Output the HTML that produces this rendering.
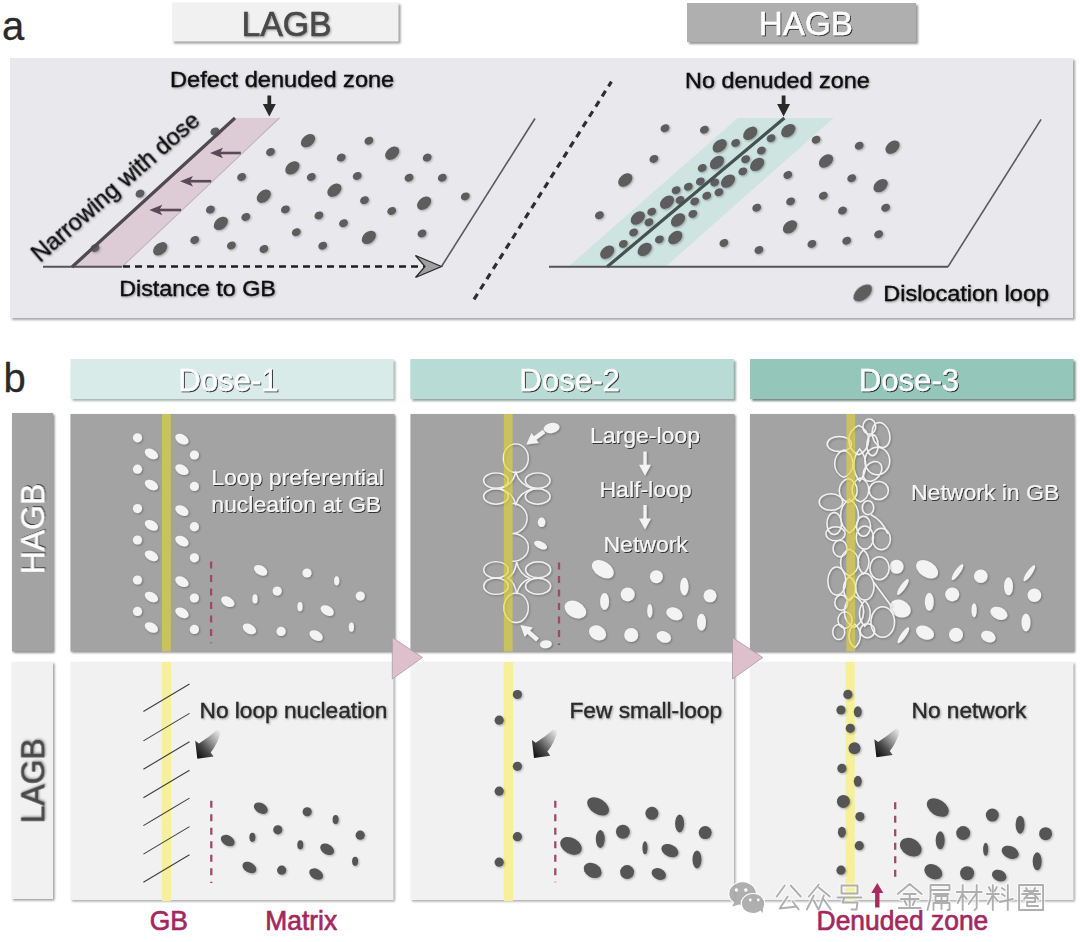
<!DOCTYPE html><html><head><meta charset="utf-8"><style>html,body{margin:0;padding:0;background:#fff;width:1080px;height:942px;overflow:hidden}svg{display:block}text{font-family:"Liberation Sans",sans-serif}</style></head><body>
<svg width="1080" height="942" viewBox="0 0 1080 942">
<defs>
<filter id="bs" x="-5%" y="-5%" width="110%" height="110%"><feGaussianBlur stdDeviation="0.8"/></filter>
<filter id="ts" x="-10%" y="-30%" width="120%" height="160%"><feGaussianBlur in="SourceAlpha" stdDeviation="0.7"/><feOffset dx="1.2" dy="1.4" result="o"/><feFlood flood-color="#2a2a2a" flood-opacity="0.95"/><feComposite in2="o" operator="in" result="s"/><feMerge><feMergeNode in="s"/><feMergeNode in="SourceGraphic"/></feMerge></filter>
<filter id="tsd" x="-10%" y="-30%" width="120%" height="160%"><feGaussianBlur in="SourceAlpha" stdDeviation="1"/><feOffset dx="1" dy="1.2" result="o"/><feFlood flood-color="#000" flood-opacity="0.35"/><feComposite in2="o" operator="in" result="s"/><feMerge><feMergeNode in="s"/><feMergeNode in="SourceGraphic"/></feMerge></filter>
<filter id="ds" x="-30%" y="-30%" width="160%" height="160%"><feGaussianBlur in="SourceAlpha" stdDeviation="0.8"/><feOffset dx="0.8" dy="1" result="o"/><feFlood flood-color="#000" flood-opacity="0.3"/><feComposite in2="o" operator="in" result="s"/><feMerge><feMergeNode in="s"/><feMergeNode in="SourceGraphic"/></feMerge></filter>
<linearGradient id="ag" x1="0.95" y1="0" x2="0.05" y2="0.85"><stop offset="0" stop-color="#f2f2f2"/><stop offset="0.35" stop-color="#a5a5a5"/><stop offset="0.7" stop-color="#4a4a4a"/><stop offset="1" stop-color="#151515"/></linearGradient>
</defs>
<text transform="translate(2,40.2)" font-size="40" fill="#2a2a2a" stroke="#2a2a2a" stroke-width="0.3" >a</text>
<rect x="174" y="4.5" width="226.5" height="39" fill="#9c9c9c" filter="url(#bs)"/>
<rect x="172" y="2.5" width="226.5" height="39" fill="#f1f1f1"/>
<rect x="689" y="5" width="229" height="39" fill="#959595" filter="url(#bs)"/>
<rect x="687" y="3" width="229" height="39" fill="#afafaf"/>
<text transform="translate(241.5,35.6) scale(1,1.03)" font-size="33.8" fill="#484848" filter="url(#tsd)" stroke="#484848" stroke-width="0.6" >LAGB</text>
<text transform="translate(758.8,35.2) scale(1,1.02)" font-size="33.2" fill="#fff" filter="url(#ts)" stroke="#fff" stroke-width="0.4" >HAGB</text>
<rect x="12" y="60" width="1063" height="260" fill="#a6a6a6" filter="url(#bs)"/>
<rect x="10" y="58" width="1063" height="260" fill="#e9e8ec"/>
<polygon points="72,267 235,118 279.5,118 121.8,267" fill="#ddccd6"/>
<line x1="121.8" y1="267" x2="279.5" y2="118" stroke="#c2b4bd" stroke-width="1.1"/>
<polygon points="568.3,266.7 737.8,118 833.6,118 665.6,266.7" fill="#cde4e1"/>
<line x1="43" y1="266.8" x2="122" y2="266.8" stroke="#555" stroke-width="1.9"/>
<line x1="123" y1="266.5" x2="425" y2="266.5" stroke="#1e1e1e" stroke-width="2.6" stroke-dasharray="7,5"/>
<polygon points="441.5,266.5 415.5,255.5 425,266.5 415.5,277.5" fill="#a0a0a0" stroke="#2a2a2a" stroke-width="1.3" stroke-linejoin="miter"/>
<line x1="441.5" y1="266.5" x2="535" y2="118.5" stroke="#5a5a5a" stroke-width="1.6"/>
<line x1="549" y1="266.7" x2="948" y2="266.7" stroke="#555" stroke-width="1.9"/>
<line x1="948" y1="266.7" x2="1041.1" y2="119.4" stroke="#5a5a5a" stroke-width="1.6"/>
<line x1="474" y1="299.4" x2="611.4" y2="81.7" stroke="#2e2e2e" stroke-width="3.2" stroke-dasharray="6.5,5.5"/>
<g filter="url(#ds)">
<ellipse cx="270.5" cy="152.0" rx="4.6" ry="3.8" transform="rotate(-30 270.5 152.0)" fill="#5d5d5d" />
<ellipse cx="368.9" cy="140.7" rx="4.6" ry="3.8" transform="rotate(-30 368.9 140.7)" fill="#5d5d5d" />
<ellipse cx="427.2" cy="157.6" rx="4.6" ry="3.8" transform="rotate(-30 427.2 157.6)" fill="#5d5d5d" />
<ellipse cx="341.2" cy="157.6" rx="4.6" ry="3.8" transform="rotate(-30 341.2 157.6)" fill="#5d5d5d" />
<ellipse cx="311.3" cy="177.0" rx="4.6" ry="3.8" transform="rotate(-30 311.3 177.0)" fill="#5d5d5d" />
<ellipse cx="357.2" cy="176.0" rx="4.6" ry="3.8" transform="rotate(-30 357.2 176.0)" fill="#5d5d5d" />
<ellipse cx="409.0" cy="177.8" rx="4.6" ry="3.8" transform="rotate(-30 409.0 177.8)" fill="#5d5d5d" />
<ellipse cx="442.3" cy="177.8" rx="4.6" ry="3.8" transform="rotate(-30 442.3 177.8)" fill="#5d5d5d" />
<ellipse cx="364.5" cy="200.3" rx="4.6" ry="3.8" transform="rotate(-30 364.5 200.3)" fill="#5d5d5d" />
<ellipse cx="465.3" cy="196.4" rx="4.6" ry="3.8" transform="rotate(-30 465.3 196.4)" fill="#5d5d5d" />
<ellipse cx="285.4" cy="209.4" rx="4.6" ry="3.8" transform="rotate(-30 285.4 209.4)" fill="#5d5d5d" />
<ellipse cx="318.9" cy="215.4" rx="4.6" ry="3.8" transform="rotate(-30 318.9 215.4)" fill="#5d5d5d" />
<ellipse cx="343.5" cy="223.2" rx="4.6" ry="3.8" transform="rotate(-30 343.5 223.2)" fill="#5d5d5d" />
<ellipse cx="391.7" cy="211.0" rx="4.6" ry="3.8" transform="rotate(-30 391.7 211.0)" fill="#5d5d5d" />
<ellipse cx="296.3" cy="232.2" rx="4.6" ry="3.8" transform="rotate(-30 296.3 232.2)" fill="#5d5d5d" />
<ellipse cx="422.0" cy="233.5" rx="4.6" ry="3.8" transform="rotate(-30 422.0 233.5)" fill="#5d5d5d" />
<ellipse cx="322.7" cy="245.7" rx="4.6" ry="3.8" transform="rotate(-30 322.7 245.7)" fill="#5d5d5d" />
<ellipse cx="263.9" cy="249.0" rx="4.6" ry="3.8" transform="rotate(-30 263.9 249.0)" fill="#5d5d5d" />
<ellipse cx="241.6" cy="177.0" rx="4.6" ry="3.8" transform="rotate(-30 241.6 177.0)" fill="#5d5d5d" />
<ellipse cx="210.4" cy="209.6" rx="4.6" ry="3.8" transform="rotate(-30 210.4 209.6)" fill="#5d5d5d" />
<ellipse cx="245.8" cy="217.0" rx="4.6" ry="3.8" transform="rotate(-30 245.8 217.0)" fill="#5d5d5d" />
<ellipse cx="194.7" cy="240.0" rx="4.6" ry="3.8" transform="rotate(-30 194.7 240.0)" fill="#5d5d5d" />
<ellipse cx="231.4" cy="245.5" rx="4.6" ry="3.8" transform="rotate(-30 231.4 245.5)" fill="#5d5d5d" />
<ellipse cx="214.9" cy="131.5" rx="4.6" ry="3.8" transform="rotate(-30 214.9 131.5)" fill="#5d5d5d" />
<ellipse cx="140.0" cy="193.6" rx="4.6" ry="3.8" transform="rotate(-30 140.0 193.6)" fill="#5d5d5d" />
<ellipse cx="95.0" cy="248.0" rx="4.6" ry="3.8" transform="rotate(-30 95.0 248.0)" fill="#5d5d5d" />
<ellipse cx="665.0" cy="128.3" rx="4.6" ry="3.8" transform="rotate(-30 665.0 128.3)" fill="#5d5d5d" />
<ellipse cx="704.4" cy="129.7" rx="4.6" ry="3.8" transform="rotate(-30 704.4 129.7)" fill="#5d5d5d" />
<ellipse cx="653.9" cy="158.9" rx="4.6" ry="3.8" transform="rotate(-30 653.9 158.9)" fill="#5d5d5d" />
<ellipse cx="599.4" cy="215.3" rx="4.6" ry="3.8" transform="rotate(-30 599.4 215.3)" fill="#5d5d5d" />
<ellipse cx="816.1" cy="139.7" rx="4.6" ry="3.8" transform="rotate(-30 816.1 139.7)" fill="#5d5d5d" />
<ellipse cx="859.2" cy="145.8" rx="4.6" ry="3.8" transform="rotate(-30 859.2 145.8)" fill="#5d5d5d" />
<ellipse cx="787.8" cy="175.0" rx="4.6" ry="3.8" transform="rotate(-30 787.8 175.0)" fill="#5d5d5d" />
<ellipse cx="851.7" cy="178.3" rx="4.6" ry="3.8" transform="rotate(-30 851.7 178.3)" fill="#5d5d5d" />
<ellipse cx="823.3" cy="195.8" rx="4.6" ry="3.8" transform="rotate(-30 823.3 195.8)" fill="#5d5d5d" />
<ellipse cx="790.6" cy="201.4" rx="4.6" ry="3.8" transform="rotate(-30 790.6 201.4)" fill="#5d5d5d" />
<ellipse cx="756.7" cy="207.8" rx="4.6" ry="3.8" transform="rotate(-30 756.7 207.8)" fill="#5d5d5d" />
<ellipse cx="842.5" cy="210.6" rx="4.6" ry="3.8" transform="rotate(-30 842.5 210.6)" fill="#5d5d5d" />
<ellipse cx="885.6" cy="207.8" rx="4.6" ry="3.8" transform="rotate(-30 885.6 207.8)" fill="#5d5d5d" />
<ellipse cx="723.9" cy="243.0" rx="4.6" ry="3.8" transform="rotate(-30 723.9 243.0)" fill="#5d5d5d" />
<ellipse cx="758.9" cy="250.0" rx="4.6" ry="3.8" transform="rotate(-30 758.9 250.0)" fill="#5d5d5d" />
<ellipse cx="811.9" cy="243.9" rx="4.6" ry="3.8" transform="rotate(-30 811.9 243.9)" fill="#5d5d5d" />
<ellipse cx="846.7" cy="240.8" rx="4.6" ry="3.8" transform="rotate(-30 846.7 240.8)" fill="#5d5d5d" />
<ellipse cx="878.6" cy="234.2" rx="4.6" ry="3.8" transform="rotate(-30 878.6 234.2)" fill="#5d5d5d" />
<ellipse cx="735.6" cy="143.0" rx="4.6" ry="3.8" transform="rotate(-30 735.6 143.0)" fill="#5d5d5d" />
<ellipse cx="771.1" cy="138.3" rx="4.6" ry="3.8" transform="rotate(-30 771.1 138.3)" fill="#5d5d5d" />
<ellipse cx="761.4" cy="150.6" rx="4.6" ry="3.8" transform="rotate(-30 761.4 150.6)" fill="#5d5d5d" />
<ellipse cx="702.2" cy="168.0" rx="4.6" ry="3.8" transform="rotate(-30 702.2 168.0)" fill="#5d5d5d" />
<ellipse cx="745.6" cy="159.2" rx="4.6" ry="3.8" transform="rotate(-30 745.6 159.2)" fill="#5d5d5d" />
<ellipse cx="742.8" cy="171.4" rx="4.6" ry="3.8" transform="rotate(-30 742.8 171.4)" fill="#5d5d5d" />
<ellipse cx="714.7" cy="182.5" rx="4.6" ry="3.8" transform="rotate(-30 714.7 182.5)" fill="#5d5d5d" />
<ellipse cx="700.3" cy="181.4" rx="4.6" ry="3.8" transform="rotate(-30 700.3 181.4)" fill="#5d5d5d" />
<ellipse cx="688.3" cy="186.7" rx="4.6" ry="3.8" transform="rotate(-30 688.3 186.7)" fill="#5d5d5d" />
<ellipse cx="676.1" cy="190.3" rx="4.6" ry="3.8" transform="rotate(-30 676.1 190.3)" fill="#5d5d5d" />
<ellipse cx="680.0" cy="200.0" rx="4.6" ry="3.8" transform="rotate(-30 680.0 200.0)" fill="#5d5d5d" />
<ellipse cx="694.7" cy="201.4" rx="4.6" ry="3.8" transform="rotate(-30 694.7 201.4)" fill="#5d5d5d" />
<ellipse cx="706.7" cy="195.8" rx="4.6" ry="3.8" transform="rotate(-30 706.7 195.8)" fill="#5d5d5d" />
<ellipse cx="718.9" cy="192.2" rx="4.6" ry="3.8" transform="rotate(-30 718.9 192.2)" fill="#5d5d5d" />
<ellipse cx="692.8" cy="213.9" rx="4.6" ry="3.8" transform="rotate(-30 692.8 213.9)" fill="#5d5d5d" />
<ellipse cx="651.7" cy="211.7" rx="4.6" ry="3.8" transform="rotate(-30 651.7 211.7)" fill="#5d5d5d" />
<ellipse cx="648.9" cy="222.2" rx="4.6" ry="3.8" transform="rotate(-30 648.9 222.2)" fill="#5d5d5d" />
<ellipse cx="633.6" cy="232.5" rx="4.6" ry="3.8" transform="rotate(-30 633.6 232.5)" fill="#5d5d5d" />
<ellipse cx="659.4" cy="239.4" rx="4.6" ry="3.8" transform="rotate(-30 659.4 239.4)" fill="#5d5d5d" />
<ellipse cx="623.3" cy="243.9" rx="4.6" ry="3.8" transform="rotate(-30 623.3 243.9)" fill="#5d5d5d" />
<ellipse cx="308.0" cy="140.7" rx="8" ry="5.6" transform="rotate(-40 308.0 140.7)" fill="#5d5d5d" />
<ellipse cx="392.2" cy="153.2" rx="8" ry="5.6" transform="rotate(-40 392.2 153.2)" fill="#5d5d5d" />
<ellipse cx="292.4" cy="167.9" rx="8" ry="5.6" transform="rotate(-40 292.4 167.9)" fill="#5d5d5d" />
<ellipse cx="263.8" cy="196.2" rx="8" ry="5.6" transform="rotate(-40 263.8 196.2)" fill="#5d5d5d" />
<ellipse cx="334.4" cy="190.2" rx="8" ry="5.6" transform="rotate(-40 334.4 190.2)" fill="#5d5d5d" />
<ellipse cx="424.1" cy="203.2" rx="8" ry="5.6" transform="rotate(-40 424.1 203.2)" fill="#5d5d5d" />
<ellipse cx="368.9" cy="237.4" rx="8" ry="5.6" transform="rotate(-40 368.9 237.4)" fill="#5d5d5d" />
<ellipse cx="220.9" cy="223.4" rx="8" ry="5.6" transform="rotate(-40 220.9 223.4)" fill="#5d5d5d" />
<ellipse cx="160.2" cy="248.8" rx="8" ry="5.6" transform="rotate(-40 160.2 248.8)" fill="#5d5d5d" />
<ellipse cx="625.3" cy="180.0" rx="8" ry="5.6" transform="rotate(-40 625.3 180.0)" fill="#5d5d5d" />
<ellipse cx="826.0" cy="161.0" rx="8" ry="5.6" transform="rotate(-40 826.0 161.0)" fill="#5d5d5d" />
<ellipse cx="892.5" cy="147.2" rx="8" ry="5.6" transform="rotate(-40 892.5 147.2)" fill="#5d5d5d" />
<ellipse cx="880.6" cy="185.6" rx="8" ry="5.6" transform="rotate(-40 880.6 185.6)" fill="#5d5d5d" />
<ellipse cx="790.0" cy="226.9" rx="8" ry="5.6" transform="rotate(-40 790.0 226.9)" fill="#5d5d5d" />
<ellipse cx="750.3" cy="133.3" rx="8" ry="5.6" transform="rotate(-40 750.3 133.3)" fill="#5d5d5d" />
<ellipse cx="788.3" cy="130.6" rx="8" ry="5.6" transform="rotate(-40 788.3 130.6)" fill="#5d5d5d" />
<ellipse cx="719.7" cy="145.8" rx="8" ry="5.6" transform="rotate(-40 719.7 145.8)" fill="#5d5d5d" />
<ellipse cx="717.0" cy="162.5" rx="8" ry="5.6" transform="rotate(-40 717.0 162.5)" fill="#5d5d5d" />
<ellipse cx="757.2" cy="164.4" rx="8" ry="5.6" transform="rotate(-40 757.2 164.4)" fill="#5d5d5d" />
<ellipse cx="728.0" cy="181.1" rx="8" ry="5.6" transform="rotate(-40 728.0 181.1)" fill="#5d5d5d" />
<ellipse cx="667.0" cy="202.2" rx="8" ry="5.6" transform="rotate(-40 667.0 202.2)" fill="#5d5d5d" />
<ellipse cx="678.0" cy="220.0" rx="8" ry="5.6" transform="rotate(-40 678.0 220.0)" fill="#5d5d5d" />
<ellipse cx="637.8" cy="218.0" rx="8" ry="5.6" transform="rotate(-40 637.8 218.0)" fill="#5d5d5d" />
<ellipse cx="675.3" cy="237.5" rx="8" ry="5.6" transform="rotate(-40 675.3 237.5)" fill="#5d5d5d" />
<ellipse cx="607.2" cy="252.2" rx="8" ry="5.6" transform="rotate(-40 607.2 252.2)" fill="#5d5d5d" />
<ellipse cx="644.7" cy="249.4" rx="8" ry="5.6" transform="rotate(-40 644.7 249.4)" fill="#5d5d5d" />
<ellipse cx="862.8" cy="293.0" rx="11" ry="6.5" transform="rotate(-40 862.8 293.0)" fill="#5d5d5d" />
</g>
<line x1="72" y1="267" x2="235" y2="118" stroke="#4e4a4e" stroke-width="3.2"/>
<line x1="607.2" y1="266.7" x2="784.4" y2="118" stroke="#46524f" stroke-width="3.2"/>
<line x1="240.8" y1="153" x2="218" y2="153" stroke="#574955" stroke-width="2.6"/>
<polygon points="210,153 223,147.8 220,153 223,158.2" fill="#574955"/>
<line x1="211.2" y1="181.2" x2="188" y2="181.2" stroke="#574955" stroke-width="2.6"/>
<polygon points="180,181.2 193,176.0 190,181.2 193,186.39999999999998" fill="#574955"/>
<line x1="181.1" y1="210" x2="157.3" y2="210" stroke="#574955" stroke-width="2.6"/>
<polygon points="149.3,210 162.3,204.8 159.3,210 162.3,215.2" fill="#574955"/>
<line x1="269.3" y1="95.5" x2="269.3" y2="107" stroke="#2a2a2a" stroke-width="3.8"/>
<polygon points="262.8,104 275.8,104 269.3,116.5" fill="#2a2a2a"/>
<line x1="783.6" y1="95.5" x2="783.6" y2="107" stroke="#2a2a2a" stroke-width="3.8"/>
<polygon points="777.1,104 790.1,104 783.6,116.5" fill="#2a2a2a"/>
<g filter="url(#tsd)">
<text transform="translate(170,87.2) scale(1,0.97)" font-size="23.6" fill="#111" stroke="#111" stroke-width="0.45" >Defect denuded zone</text>
<text transform="translate(685,88.3) scale(1,0.97)" font-size="23.4" fill="#111" stroke="#111" stroke-width="0.45" >No denuded zone</text>
<text transform="translate(119.2,296) scale(1,0.97)" font-size="23.3" fill="#111" stroke="#111" stroke-width="0.45" >Distance to GB</text>
<text transform="translate(883.2,301.3) scale(1,0.97)" font-size="23.5" fill="#111" stroke="#111" stroke-width="0.45" >Dislocation loop</text>
<text transform="translate(40,263) rotate(-41)" font-size="23.6" fill="#111" stroke="#111" stroke-width="0.35" >Narrowing with dose</text>
</g>
<text transform="translate(3.5,391.5)" font-size="40" fill="#2a2a2a" stroke="#2a2a2a" stroke-width="0.3" >b</text>
<rect x="72.5" y="361" width="323" height="40" fill="#a9b3b1" filter="url(#bs)"/>
<rect x="70.5" y="359" width="323" height="40" fill="#d9ebe8"/>
<text transform="translate(228.4,390.8)" font-size="31.2" fill="#fff" text-anchor="middle" filter="url(#ts)" stroke="#fff" stroke-width="0.3" >Dose-1</text>
<rect x="412.3" y="361" width="323.5" height="40" fill="#8fa29e" filter="url(#bs)"/>
<rect x="410.3" y="359" width="323.5" height="40" fill="#b8dcd5"/>
<text transform="translate(569.6,390.8)" font-size="31.2" fill="#fff" text-anchor="middle" filter="url(#ts)" stroke="#fff" stroke-width="0.3" >Dose-2</text>
<rect x="752" y="361" width="323.5" height="40" fill="#71857f" filter="url(#bs)"/>
<rect x="750" y="359" width="323.5" height="40" fill="#94c7ba"/>
<text transform="translate(908.9,390.8)" font-size="31.2" fill="#fff" text-anchor="middle" filter="url(#ts)" stroke="#fff" stroke-width="0.3" >Dose-3</text>
<rect x="13.5" y="414.5" width="41" height="238.5" fill="#8a8a8a" filter="url(#bs)"/>
<rect x="12" y="413" width="41" height="238.5" fill="#a3a3a3"/>
<rect x="13.0" y="663.5" width="41.5" height="237" fill="#9a9a9a" filter="url(#bs)"/>
<rect x="11.5" y="662" width="41.5" height="237" fill="#f1f1f1"/>
<text transform="translate(44.3,529) rotate(-90) scale(1,1.05)" font-size="32" fill="#fff" text-anchor="middle" filter="url(#ts)" stroke="#fff" stroke-width="0.3" >HAGB</text>
<text transform="translate(44.3,780.8) rotate(-90) scale(1,1.05)" font-size="31.8" fill="#484848" text-anchor="middle" filter="url(#tsd)" stroke="#484848" stroke-width="0.6" >LAGB</text>
<rect x="71.7" y="415.2" width="324" height="237.5" fill="#8c8c8c" filter="url(#bs)"/>
<rect x="70.5" y="414" width="324" height="237.5" fill="#a3a3a3"/>
<rect x="411.7" y="415.2" width="324" height="237.5" fill="#8c8c8c" filter="url(#bs)"/>
<rect x="410.5" y="414" width="324" height="237.5" fill="#a3a3a3"/>
<rect x="751.2" y="415.2" width="324" height="237.5" fill="#8c8c8c" filter="url(#bs)"/>
<rect x="750" y="414" width="324" height="237.5" fill="#a3a3a3"/>
<rect x="72.0" y="663.5" width="323" height="238" fill="#a8a8a8" filter="url(#bs)"/>
<rect x="70.5" y="662" width="323" height="238" fill="#f1f1f1"/>
<rect x="412.0" y="663.5" width="323.5" height="238" fill="#a8a8a8" filter="url(#bs)"/>
<rect x="410.5" y="662" width="323.5" height="238" fill="#f1f1f1"/>
<rect x="751.5" y="663.5" width="323.5" height="238" fill="#a8a8a8" filter="url(#bs)"/>
<rect x="750" y="662" width="323.5" height="238" fill="#f1f1f1"/>
<polygon points="392.3,637.5 422.5,657.5 392.3,679" fill="#dec0cd" stroke="#a89aa2" stroke-width="0.8"/>
<polygon points="732.5,637.5 762.7,657.5 732.5,679" fill="#dec0cd" stroke="#a89aa2" stroke-width="0.8"/>
<rect x="162" y="414" width="8.8" height="237.5" fill="#c9c25f"/>
<rect x="161.8" y="662" width="9.2" height="239" fill="#f6f09b"/>
<rect x="503.8" y="662" width="9.2" height="239" fill="#f6f09b"/>
<rect x="845.6" y="662" width="9.2" height="239" fill="#f6f09b"/>
<g filter="url(#ds)">
<circle cx="137.5" cy="437.8" r="4.6" fill="#f3f3f3"/>
<circle cx="137.5" cy="469.2" r="4.6" fill="#f3f3f3"/>
<circle cx="137.5" cy="508.6" r="4.6" fill="#f3f3f3"/>
<circle cx="137.5" cy="540" r="4.6" fill="#f3f3f3"/>
<circle cx="137.5" cy="580" r="4.6" fill="#f3f3f3"/>
<circle cx="137.5" cy="611.4" r="4.6" fill="#f3f3f3"/>
<ellipse cx="151.4" cy="453.9" rx="7.2" ry="4.6" transform="rotate(30 151.4 453.9)" fill="#f3f3f3" />
<ellipse cx="151.4" cy="485.0" rx="7.2" ry="4.6" transform="rotate(30 151.4 485.0)" fill="#f3f3f3" />
<ellipse cx="151.4" cy="525.3" rx="7.2" ry="4.6" transform="rotate(30 151.4 525.3)" fill="#f3f3f3" />
<ellipse cx="151.4" cy="555.8" rx="7.2" ry="4.6" transform="rotate(30 151.4 555.8)" fill="#f3f3f3" />
<ellipse cx="151.4" cy="597.0" rx="7.2" ry="4.6" transform="rotate(30 151.4 597.0)" fill="#f3f3f3" />
<ellipse cx="151.4" cy="627.5" rx="7.2" ry="4.6" transform="rotate(30 151.4 627.5)" fill="#f3f3f3" />
<ellipse cx="181.9" cy="439.2" rx="7.2" ry="4.6" transform="rotate(30 181.9 439.2)" fill="#f3f3f3" />
<ellipse cx="181.9" cy="469.7" rx="7.2" ry="4.6" transform="rotate(30 181.9 469.7)" fill="#f3f3f3" />
<ellipse cx="181.9" cy="510.6" rx="7.2" ry="4.6" transform="rotate(30 181.9 510.6)" fill="#f3f3f3" />
<ellipse cx="181.9" cy="541.1" rx="7.2" ry="4.6" transform="rotate(30 181.9 541.1)" fill="#f3f3f3" />
<ellipse cx="181.9" cy="581.7" rx="7.2" ry="4.6" transform="rotate(30 181.9 581.7)" fill="#f3f3f3" />
<ellipse cx="181.9" cy="612.8" rx="7.2" ry="4.6" transform="rotate(30 181.9 612.8)" fill="#f3f3f3" />
<circle cx="194.4" cy="455" r="4.6" fill="#f3f3f3"/>
<circle cx="194.4" cy="486.4" r="4.6" fill="#f3f3f3"/>
<circle cx="194.4" cy="526.7" r="4.6" fill="#f3f3f3"/>
<circle cx="194.4" cy="557.8" r="4.6" fill="#f3f3f3"/>
<circle cx="194.4" cy="598" r="4.6" fill="#f3f3f3"/>
<circle cx="194.4" cy="629.4" r="4.6" fill="#f3f3f3"/>
<ellipse cx="260.6" cy="570.3" rx="7.2" ry="4.6" transform="rotate(30 260.6 570.3)" fill="#f3f3f3" />
<circle cx="307" cy="573" r="4.6" fill="#f3f3f3"/>
<ellipse cx="336.7" cy="580.8" rx="2.6" ry="4.6" transform="rotate(0 336.7 580.8)" fill="#f3f3f3" />
<circle cx="277.2" cy="591.1" r="4.6" fill="#f3f3f3"/>
<ellipse cx="255.0" cy="598.9" rx="2.6" ry="4.6" transform="rotate(0 255.0 598.9)" fill="#f3f3f3" />
<ellipse cx="227.8" cy="601.7" rx="7.2" ry="4.6" transform="rotate(30 227.8 601.7)" fill="#f3f3f3" />
<ellipse cx="300.0" cy="606.7" rx="2.6" ry="4.6" transform="rotate(0 300.0 606.7)" fill="#f3f3f3" />
<ellipse cx="327.2" cy="610.6" rx="7.2" ry="4.6" transform="rotate(30 327.2 610.6)" fill="#f3f3f3" />
<circle cx="360.3" cy="596.1" r="4.6" fill="#f3f3f3"/>
<ellipse cx="249.4" cy="628.9" rx="7.2" ry="4.6" transform="rotate(30 249.4 628.9)" fill="#f3f3f3" />
<circle cx="281.1" cy="631.4" r="4.6" fill="#f3f3f3"/>
<ellipse cx="316.1" cy="635.6" rx="7.2" ry="4.6" transform="rotate(30 316.1 635.6)" fill="#f3f3f3" />
<ellipse cx="351.4" cy="627.2" rx="2.6" ry="4.6" transform="rotate(0 351.4 627.2)" fill="#f3f3f3" />
<ellipse cx="602.8" cy="569.2" rx="12" ry="7.6" transform="rotate(33 602.8 569.2)" fill="#f3f3f3" />
<circle cx="656.4" cy="576.7" r="6.5" fill="#f3f3f3"/>
<ellipse cx="684.3" cy="586.5" rx="4.2" ry="9" transform="rotate(0 684.3 586.5)" fill="#f3f3f3" />
<circle cx="627.7" cy="594.4" r="7" fill="#f3f3f3"/>
<ellipse cx="604.6" cy="601.6" rx="4.5" ry="8.5" transform="rotate(0 604.6 601.6)" fill="#f3f3f3" />
<circle cx="710" cy="595.8" r="6.5" fill="#f3f3f3"/>
<ellipse cx="575.4" cy="609.6" rx="11.5" ry="8" transform="rotate(30 575.4 609.6)" fill="#f3f3f3" />
<ellipse cx="649.8" cy="610.9" rx="2.6" ry="7" transform="rotate(0 649.8 610.9)" fill="#f3f3f3" />
<ellipse cx="674.4" cy="613.8" rx="8.5" ry="6" transform="rotate(25 674.4 613.8)" fill="#f3f3f3" />
<ellipse cx="701.5" cy="622.3" rx="4.5" ry="8.5" transform="rotate(0 701.5 622.3)" fill="#f3f3f3" />
<ellipse cx="597.5" cy="632.9" rx="9" ry="7" transform="rotate(30 597.5 632.9)" fill="#f3f3f3" />
<circle cx="631.2" cy="635" r="7" fill="#f3f3f3"/>
<ellipse cx="663.8" cy="636.9" rx="7.5" ry="5.5" transform="rotate(25 663.8 636.9)" fill="#f3f3f3" />
<circle cx="896.6" cy="566.8" r="7" fill="#f3f3f3"/>
<ellipse cx="927.1" cy="569.3" rx="12" ry="7.8" transform="rotate(33 927.1 569.3)" fill="#f3f3f3" />
<ellipse cx="957.5" cy="572.1" rx="2.6" ry="9.5" transform="rotate(35 957.5 572.1)" fill="#f3f3f3" />
<circle cx="980.8" cy="576.3" r="6.8" fill="#f3f3f3"/>
<ellipse cx="1008.5" cy="586.3" rx="4.5" ry="9" transform="rotate(0 1008.5 586.3)" fill="#f3f3f3" />
<ellipse cx="1029.3" cy="573.2" rx="2.6" ry="9.5" transform="rotate(35 1029.3 573.2)" fill="#f3f3f3" />
<ellipse cx="902.9" cy="587.0" rx="2.6" ry="9.5" transform="rotate(35 902.9 587.0)" fill="#f3f3f3" />
<ellipse cx="929.3" cy="601.8" rx="4.5" ry="9" transform="rotate(0 929.3 601.8)" fill="#f3f3f3" />
<circle cx="952.2" cy="594.4" r="7" fill="#f3f3f3"/>
<circle cx="1034.4" cy="595.2" r="6.8" fill="#f3f3f3"/>
<ellipse cx="900.2" cy="608.6" rx="11" ry="8.5" transform="rotate(25 900.2 608.6)" fill="#f3f3f3" />
<ellipse cx="974.1" cy="610.3" rx="2.6" ry="7" transform="rotate(0 974.1 610.3)" fill="#f3f3f3" />
<ellipse cx="998.9" cy="613.3" rx="9" ry="6" transform="rotate(25 998.9 613.3)" fill="#f3f3f3" />
<ellipse cx="1026.0" cy="622.4" rx="4.5" ry="9" transform="rotate(0 1026.0 622.4)" fill="#f3f3f3" />
<ellipse cx="903.4" cy="635.2" rx="2.6" ry="9.5" transform="rotate(35 903.4 635.2)" fill="#f3f3f3" />
<ellipse cx="925.0" cy="632.6" rx="9.5" ry="6.5" transform="rotate(25 925.0 632.6)" fill="#f3f3f3" />
<circle cx="956" cy="634.7" r="7" fill="#f3f3f3"/>
<ellipse cx="988.3" cy="636.6" rx="7.5" ry="5.5" transform="rotate(25 988.3 636.6)" fill="#f3f3f3" />
<ellipse cx="551.6" cy="428.0" rx="8" ry="5" transform="rotate(-10 551.6 428.0)" fill="#f3f3f3" />
<ellipse cx="545.9" cy="644.2" rx="6" ry="4" transform="rotate(-5 545.9 644.2)" fill="#f3f3f3" />
<ellipse cx="541.6" cy="522.3" rx="3.8" ry="4.8" transform="rotate(0 541.6 522.3)" fill="#f3f3f3" />
<ellipse cx="540.6" cy="545.1" rx="7" ry="3.5" transform="rotate(25 540.6 545.1)" fill="#f3f3f3" />
</g>
<g filter="url(#ds)">
<ellipse cx="260.8" cy="808.2" rx="7.5" ry="5" transform="rotate(30 260.8 808.2)" fill="#555555" />
<circle cx="307.2" cy="811.8" r="4.6" fill="#555555"/>
<ellipse cx="335.6" cy="819.6" rx="3" ry="4.6" transform="rotate(0 335.6 819.6)" fill="#555555" />
<circle cx="277.8" cy="829.8" r="4.6" fill="#555555"/>
<circle cx="360.2" cy="835.2" r="4.6" fill="#555555"/>
<ellipse cx="227.8" cy="840.6" rx="7.5" ry="5" transform="rotate(30 227.8 840.6)" fill="#555555" />
<ellipse cx="252.4" cy="837.3" rx="3" ry="4.6" transform="rotate(0 252.4 837.3)" fill="#555555" />
<ellipse cx="300.3" cy="844.8" rx="3" ry="4.6" transform="rotate(0 300.3 844.8)" fill="#555555" />
<ellipse cx="327.2" cy="849.3" rx="7.5" ry="5" transform="rotate(30 327.2 849.3)" fill="#555555" />
<ellipse cx="355.1" cy="861.3" rx="3" ry="4.6" transform="rotate(0 355.1 861.3)" fill="#555555" />
<ellipse cx="249.4" cy="867.5" rx="7.5" ry="5" transform="rotate(30 249.4 867.5)" fill="#555555" />
<circle cx="281.7" cy="870.2" r="4.6" fill="#555555"/>
<ellipse cx="316.2" cy="874.1" rx="7.5" ry="5" transform="rotate(30 316.2 874.1)" fill="#555555" />
<ellipse cx="598.1" cy="806.4" rx="12" ry="7.6" transform="rotate(33 598.1 806.4)" fill="#555555" />
<circle cx="651.9" cy="813.3" r="6.5" fill="#555555"/>
<ellipse cx="679.6" cy="823.5" rx="4.5" ry="9" transform="rotate(0 679.6 823.5)" fill="#555555" />
<circle cx="622.9" cy="831.8" r="7" fill="#555555"/>
<circle cx="705.2" cy="832.6" r="6.5" fill="#555555"/>
<ellipse cx="600.3" cy="839.0" rx="4.5" ry="9" transform="rotate(0 600.3 839.0)" fill="#555555" />
<ellipse cx="571.0" cy="845.9" rx="11.5" ry="8" transform="rotate(30 571.0 845.9)" fill="#555555" />
<ellipse cx="645.0" cy="847.8" rx="2.6" ry="6.5" transform="rotate(0 645.0 847.8)" fill="#555555" />
<ellipse cx="669.9" cy="850.6" rx="9" ry="6" transform="rotate(25 669.9 850.6)" fill="#555555" />
<ellipse cx="697.0" cy="859.4" rx="4.5" ry="9" transform="rotate(0 697.0 859.4)" fill="#555555" />
<ellipse cx="592.6" cy="870.4" rx="9.5" ry="7" transform="rotate(30 592.6 870.4)" fill="#555555" />
<circle cx="627.1" cy="872.1" r="7" fill="#555555"/>
<ellipse cx="658.8" cy="874.0" rx="7.5" ry="5.5" transform="rotate(25 658.8 874.0)" fill="#555555" />
<ellipse cx="937.8" cy="807.6" rx="12" ry="7.8" transform="rotate(33 937.8 807.6)" fill="#555555" />
<circle cx="992.3" cy="815.1" r="6.5" fill="#555555"/>
<ellipse cx="1020.1" cy="824.7" rx="4.5" ry="9" transform="rotate(0 1020.1 824.7)" fill="#555555" />
<circle cx="963.2" cy="833.1" r="7" fill="#555555"/>
<circle cx="1045.6" cy="833.7" r="6.5" fill="#555555"/>
<ellipse cx="940.2" cy="840.3" rx="4.5" ry="9" transform="rotate(0 940.2 840.3)" fill="#555555" />
<ellipse cx="910.8" cy="847.2" rx="11.5" ry="8.5" transform="rotate(30 910.8 847.2)" fill="#555555" />
<ellipse cx="985.7" cy="849.3" rx="2.6" ry="6.5" transform="rotate(0 985.7 849.3)" fill="#555555" />
<ellipse cx="1010.2" cy="852.3" rx="9" ry="6" transform="rotate(25 1010.2 852.3)" fill="#555555" />
<ellipse cx="1037.2" cy="861.3" rx="4.5" ry="9" transform="rotate(0 1037.2 861.3)" fill="#555555" />
<ellipse cx="933.3" cy="871.7" rx="9.5" ry="7" transform="rotate(30 933.3 871.7)" fill="#555555" />
<circle cx="967.1" cy="873.2" r="7" fill="#555555"/>
<ellipse cx="999.2" cy="875.6" rx="7.5" ry="5.5" transform="rotate(25 999.2 875.6)" fill="#555555" />
<circle cx="517.4" cy="694.5" r="4.6" fill="#555555"/>
<circle cx="499.2" cy="720.2" r="4.6" fill="#555555"/>
<circle cx="517.4" cy="766.3" r="4.6" fill="#555555"/>
<circle cx="499.2" cy="791.2" r="4.6" fill="#555555"/>
<circle cx="517.4" cy="836.7" r="4.6" fill="#555555"/>
<circle cx="499.2" cy="862.2" r="4.6" fill="#555555"/>
<circle cx="847.9" cy="694.4" r="4.6" fill="#555555"/>
<circle cx="841" cy="710" r="4.6" fill="#555555"/>
<ellipse cx="857.8" cy="711.8" rx="4" ry="5.5" transform="rotate(0 857.8 711.8)" fill="#555555" />
<circle cx="850.3" cy="728.3" r="4.6" fill="#555555"/>
<circle cx="854.5" cy="748.3" r="6" fill="#555555"/>
<circle cx="841.9" cy="768.4" r="4.6" fill="#555555"/>
<ellipse cx="857.8" cy="781.3" rx="4" ry="5.5" transform="rotate(0 857.8 781.3)" fill="#555555" />
<circle cx="843.4" cy="801.4" r="6.5" fill="#555555"/>
<circle cx="859.9" cy="816.6" r="4.6" fill="#555555"/>
<ellipse cx="841.9" cy="832.2" rx="4" ry="5.5" transform="rotate(0 841.9 832.2)" fill="#555555" />
<circle cx="859.3" cy="845.7" r="4.6" fill="#555555"/>
<circle cx="841" cy="870.2" r="4.6" fill="#555555"/>
</g>
<line x1="211.1" y1="561.4" x2="211.1" y2="643.3" stroke="#a0486a" stroke-width="2.3" stroke-dasharray="7,6.5"/>
<line x1="559" y1="562.6" x2="559" y2="644.9" stroke="#a0486a" stroke-width="2.3" stroke-dasharray="7,6.5"/>
<line x1="211.3" y1="800.8" x2="211.3" y2="883.1" stroke="#a0486a" stroke-width="2.3" stroke-dasharray="7,6.5"/>
<line x1="555.3" y1="800.8" x2="555.3" y2="882.3" stroke="#a0486a" stroke-width="2.3" stroke-dasharray="7,6.5"/>
<line x1="895.2" y1="802.3" x2="895.2" y2="883.1" stroke="#a0486a" stroke-width="2.3" stroke-dasharray="7,6.5"/>
<line x1="143.4" y1="711.5" x2="189.5" y2="684.0" stroke="#3e3e3e" stroke-width="1.1"/>
<line x1="143.4" y1="740.9" x2="189.5" y2="713.4" stroke="#3e3e3e" stroke-width="1.1"/>
<line x1="143.4" y1="769.3" x2="189.5" y2="741.8" stroke="#3e3e3e" stroke-width="1.1"/>
<line x1="143.4" y1="797.8" x2="189.5" y2="770.3" stroke="#3e3e3e" stroke-width="1.1"/>
<line x1="143.4" y1="825.6" x2="189.5" y2="798.1" stroke="#3e3e3e" stroke-width="1.1"/>
<line x1="143.4" y1="854.1" x2="189.5" y2="826.6" stroke="#3e3e3e" stroke-width="1.1"/>
<line x1="143.4" y1="882.2" x2="189.5" y2="854.7" stroke="#3e3e3e" stroke-width="1.1"/>
<g fill="none" stroke="#f2f2f2" stroke-width="1.4" filter="url(#ds)">
<ellipse cx="515.8" cy="458.2" rx="12.5" ry="14.3"/>
<ellipse cx="496" cy="480.6" rx="12.4" ry="7.7"/>
<ellipse cx="537.7" cy="480.6" rx="12.4" ry="7.7"/>
<ellipse cx="496" cy="496.5" rx="12.4" ry="7.7"/>
<ellipse cx="537.7" cy="496.5" rx="12.4" ry="7.7"/>
<path d="M515.8,472.5 Q512.4,485.0 500.5,488.6 Q512.4,492.1 515.8,504.1 Q519.7,492.2 533,488.8 Q519.7,485.1 515.8,472.5 Z"/>
<path d="M512.4,503.2 A16,15.2 0 0 1 512.4,533.5 A16,13.9 0 0 1 512.4,561.3"/>
<ellipse cx="496" cy="569.8" rx="12.3" ry="8.2"/>
<ellipse cx="538.1" cy="569.8" rx="12.5" ry="8"/>
<ellipse cx="496" cy="586.2" rx="12.3" ry="8.2"/>
<ellipse cx="538.1" cy="586.2" rx="12.5" ry="8"/>
<path d="M516.7,562.1 Q514.7,574.4 507.7,578 Q514.7,581.6 516.7,594 Q519.7,581.9 530,578.4 Q519.7,574.7 516.7,562.1 Z"/>
<ellipse cx="516.1" cy="607.8" rx="12.2" ry="14.7"/>
</g>
<g filter="url(#ds)">
<line x1="544" y1="431.5" x2="533.5" y2="439.2" stroke="#f3f3f3" stroke-width="4.2" /><polygon points="526.3,444.6 531.5,433.1 538.8,443.0" fill="#f3f3f3" />
<line x1="537.5" y1="639.8" x2="527.2" y2="630.9" stroke="#f3f3f3" stroke-width="4.2" /><polygon points="520.4,625.0 532.8,627.5 524.7,636.9" fill="#f3f3f3" />
<line x1="645" y1="451.5" x2="645.0" y2="466.8" stroke="#f3f3f3" stroke-width="3.3" /><polygon points="645.0,475.8 639.0,464.8 651.0,464.8" fill="#f3f3f3" />
<line x1="645" y1="505" x2="645.0" y2="520.6" stroke="#f3f3f3" stroke-width="3.3" /><polygon points="645.0,529.6 639.0,518.6 651.0,518.6" fill="#f3f3f3" />
</g>
<g fill="none" stroke="#f2f2f2" stroke-width="1.5" filter="url(#ds)">
<ellipse cx="869.3" cy="426.7" rx="6.4" ry="7.6" transform="rotate(0 869.3 426.7)"/>
<ellipse cx="881" cy="435" rx="8.6" ry="12.7" transform="rotate(-15 881 435)"/>
<ellipse cx="839.3" cy="444" rx="12.1" ry="7.6" transform="rotate(0 839.3 444)"/>
<ellipse cx="872.5" cy="445.2" rx="5.7" ry="10.5" transform="rotate(0 872.5 445.2)"/>
<ellipse cx="877.3" cy="461" rx="12.4" ry="13.7" transform="rotate(0 877.3 461)"/>
<ellipse cx="878.8" cy="490.5" rx="9.6" ry="9" transform="rotate(0 878.8 490.5)"/>
<ellipse cx="831" cy="502" rx="11.8" ry="8.3" transform="rotate(0 831 502)"/>
<ellipse cx="868" cy="507.7" rx="5.7" ry="7" transform="rotate(0 868 507.7)"/>
<ellipse cx="834.2" cy="523.6" rx="7.3" ry="11" transform="rotate(0 834.2 523.6)"/>
<ellipse cx="863.5" cy="526.2" rx="7" ry="10" transform="rotate(0 863.5 526.2)"/>
<ellipse cx="840" cy="548.5" rx="7" ry="8.3" transform="rotate(0 840 548.5)"/>
<ellipse cx="879.5" cy="568.2" rx="9.6" ry="11.5" transform="rotate(0 879.5 568.2)"/>
<ellipse cx="836.8" cy="581" rx="9" ry="14" transform="rotate(0 836.8 581)"/>
<ellipse cx="864.8" cy="586.7" rx="9.2" ry="13.4" transform="rotate(0 864.8 586.7)"/>
<ellipse cx="841.2" cy="602.7" rx="6.4" ry="7.6" transform="rotate(0 841.2 602.7)"/>
<ellipse cx="845" cy="620" rx="7" ry="8.3" transform="rotate(0 845 620)"/>
<ellipse cx="882.7" cy="622" rx="11.8" ry="15.3" transform="rotate(0 882.7 622)"/>
<ellipse cx="838.7" cy="632" rx="6" ry="7.6" transform="rotate(0 838.7 632)"/>
<ellipse cx="867.4" cy="630.7" rx="7.3" ry="7" transform="rotate(0 867.4 630.7)"/>
<ellipse cx="835.5" cy="533.8" rx="9.6" ry="7" transform="rotate(0 835.5 533.8)"/>
<ellipse cx="864.8" cy="537.6" rx="8.6" ry="11.5" transform="rotate(0 864.8 537.6)"/>
<ellipse cx="881.4" cy="539" rx="9" ry="10.8" transform="rotate(0 881.4 539)"/>
<ellipse cx="872.5" cy="471.4" rx="8" ry="11" transform="rotate(40 872.5 471.4)"/>
<path transform="rotate(0 858.7 440.1)" d="M858.7,425.40000000000003 A15.8,15.8 0 0 1 858.7,454.8 A15.8,15.8 0 0 1 858.7,425.40000000000003Z"/>
<path transform="rotate(0 843.8 463.7)" d="M843.8,450.0 A14.8,14.8 0 0 1 843.8,477.4 A14.8,14.8 0 0 1 843.8,450.0Z"/>
<path transform="rotate(0 859.7 465)" d="M859.7,449 A24.3,24.3 0 0 1 859.7,481 A24.3,24.3 0 0 1 859.7,449Z"/>
<path transform="rotate(0 848.2 490.5)" d="M848.2,478.5 A12.5,12.5 0 0 1 848.2,502.5 A12.5,12.5 0 0 1 848.2,478.5Z"/>
<path transform="rotate(0 860.4 489.9)" d="M860.4,477.9 A12.8,12.8 0 0 1 860.4,501.9 A12.8,12.8 0 0 1 860.4,477.9Z"/>
<path transform="rotate(0 849.5 516)" d="M849.5,499 A20.6,20.6 0 0 1 849.5,533 A20.6,20.6 0 0 1 849.5,499Z"/>
<path transform="rotate(0 849.5 562.5)" d="M849.5,549.1 A14.5,14.5 0 0 1 849.5,575.9 A14.5,14.5 0 0 1 849.5,549.1Z"/>
<path transform="rotate(0 863.5 561.9)" d="M863.5,549.9 A16.0,16.0 0 0 1 863.5,573.9 A16.0,16.0 0 0 1 863.5,549.9Z"/>
<path transform="rotate(0 849.5 588.6)" d="M849.5,576.6 A15.0,15.0 0 0 1 849.5,600.6 A15.0,15.0 0 0 1 849.5,576.6Z"/>
<path transform="rotate(0 854 611.6)" d="M854,595.6 A18.1,18.1 0 0 1 854,627.6 A18.1,18.1 0 0 1 854,595.6Z"/>
<path transform="rotate(0 864.8 613.5)" d="M864.8,600.8 A17.6,17.6 0 0 1 864.8,626.2 A17.6,17.6 0 0 1 864.8,600.8Z"/>
<path transform="rotate(0 854.6 635.8)" d="M854.6,624.0 A15.1,15.1 0 0 1 854.6,647.5999999999999 A15.1,15.1 0 0 1 854.6,624.0Z"/>
<path d="M873.7,582.3 L891.6,606.5 M871,514.7 Q882,520 887.8,533.8"/>
</g>
<rect x="503.8" y="414" width="8.8" height="237.5" fill="#e3d732" fill-opacity="0.6"/>
<rect x="846.4" y="414" width="8.8" height="237.5" fill="#e3d732" fill-opacity="0.6"/>
<path d="M216.5,730.1999999999999 L221.3,730.8 Q217.3,744.8 210.70000000000002,752.4 L213.60000000000002,756.5 L197.3,758.8 L195.20000000000002,740.6999999999999 L199.0,743.5999999999999 Q209.3,736.8 216.5,730.1999999999999Z" fill="url(#ag)"/>
<path d="M553.2,729.4 L558,730 Q554,744 547.4,751.6 L550.3,755.7 L534,758 L531.9,739.9 L535.7,742.8 Q546,736 553.2,729.4Z" fill="url(#ag)"/>
<path d="M895.6,728.6999999999999 L900.4,729.3 Q896.4,743.3 889.8,750.9 L892.6999999999999,755.0 L876.4,757.3 L874.3,739.1999999999999 L878.1,742.0999999999999 Q888.4,735.3 895.6,728.6999999999999Z" fill="url(#ag)"/>
<text transform="translate(211.2,484.8) scale(1,0.98)" font-size="23" fill="#f6f6f6" filter="url(#ts)" stroke="#f6f6f6" stroke-width="0.15" >Loop preferential</text>
<text transform="translate(211.2,511.6) scale(1,0.98)" font-size="23" fill="#f6f6f6" filter="url(#ts)" stroke="#f6f6f6" stroke-width="0.15" >nucleation at GB</text>
<text transform="translate(590,443) scale(1,0.98)" font-size="23" fill="#f6f6f6" filter="url(#ts)" stroke="#f6f6f6" stroke-width="0.15" >Large-loop</text>
<text transform="translate(599.5,497.4) scale(1,0.98)" font-size="23" fill="#f6f6f6" filter="url(#ts)" stroke="#f6f6f6" stroke-width="0.15" >Half-loop</text>
<text transform="translate(603.5,551.8) scale(1,0.98)" font-size="23" fill="#f6f6f6" filter="url(#ts)" stroke="#f6f6f6" stroke-width="0.15" >Network</text>
<text transform="translate(911,500.1) scale(1,0.98)" font-size="23" fill="#f6f6f6" filter="url(#ts)" stroke="#f6f6f6" stroke-width="0.15" >Network in GB</text>
<text transform="translate(199.5,717.8)" font-size="22.7" fill="#2a2a2a" filter="url(#tsd)" stroke="#2a2a2a" stroke-width="0.4" >No loop nucleation</text>
<text transform="translate(569.5,718)" font-size="22.7" fill="#2a2a2a" filter="url(#tsd)" stroke="#2a2a2a" stroke-width="0.4" >Few small-loop</text>
<text transform="translate(911.5,717.8)" font-size="22.7" fill="#2a2a2a" filter="url(#tsd)" stroke="#2a2a2a" stroke-width="0.4" >No network</text>
<text transform="translate(149.8,930.4) scale(1,1.06)" font-size="26.4" fill="#a2285e" stroke="#a2285e" stroke-width="0.65" >GB</text>
<text transform="translate(265.3,930.4) scale(1,1.06)" font-size="26.4" fill="#a2285e" stroke="#a2285e" stroke-width="0.65" >Matrix</text>
<text transform="translate(816.6,930.4) scale(1,1.06)" font-size="26.4" fill="#a2285e" stroke="#a2285e" stroke-width="0.65" >Denuded zone</text>
<line x1="877.3" y1="907.5" x2="877.3" y2="891.0" stroke="#a82a5e" stroke-width="4.4" /><polygon points="877.3,883.0 883.3,893.0 871.3,893.0" fill="#a82a5e" />
<g opacity="0.92">
<g fill="#a9a9a9" stroke="#fff" stroke-width="1.1">
<path d="M731.2,907.5 L733.5,902.5 A13.8,11.8 0 1 1 739,905 Z"/>
<path d="M762.8,914.5 L760.5,911.2 A11.7,10 0 1 1 764,907 Z"/>
</g>
<g fill="#fff"><circle cx="736.4" cy="890" r="1.7"/><circle cx="745.8" cy="890" r="1.7"/><circle cx="750.3" cy="900" r="1.4"/><circle cx="758.3" cy="900" r="1.4"/></g>
<g fill="none" stroke-linecap="round" stroke-linejoin="round">
<path transform="translate(775.7,884.5)" d="M9,1 L1,12 M15,1 L25,12 M12,12 L4,24 L21,22 M17,17 L23,25" stroke="#fff" stroke-width="4.2" stroke-opacity="0.7"/>
<path transform="translate(805.8,884.5)" d="M13,0 L3,12 M13,3 L24,12 M8,11 L1,25 M8,16 L12,24 M18,11 L13,25 M18,15 L25,25" stroke="#fff" stroke-width="4.2" stroke-opacity="0.7"/>
<path transform="translate(836.5,884.5)" d="M5,1 L21,1 L21,9 L5,9 Z M1,13 L25,13 M8,13 L6,18 L21,18 L20,25 L15,25" stroke="#fff" stroke-width="4.2" stroke-opacity="0.7"/>
<path transform="translate(896.7,884)" d="M13,0 L1,10 M13,0 L25,10 M7,10 L19,10 M4,15 L22,15 M13,10 L13,24 M8,17 L10,21 M18,17 L16,21 M2,24 L24,24" stroke="#fff" stroke-width="4.2" stroke-opacity="0.7"/>
<path transform="translate(926.5,884)" d="M4,1 L23,1 L23,6 L4,6 M4,1 L4,14 L1,26 M7,10 L22,10 M9,12 L21,12 L21,17 L9,17 Z M15,10 L15,25 M7,26 L7,19 L23,19 L23,26 L21,26" stroke="#fff" stroke-width="4.2" stroke-opacity="0.7"/>
<path transform="translate(956.7,884)" d="M0,8 L11,8 M6,1 L6,26 M6,9 L1,19 M6,10 L10,15 M12,8 L25,8 M20,1 L20,24 L18,26 M20,9 L12,20" stroke="#fff" stroke-width="4.2" stroke-opacity="0.7"/>
<path transform="translate(986.8,884)" d="M2,3 L4,7 M10,3 L8,7 M0,10 L12,10 M6,1 L6,26 M6,11 L1,20 M6,11 L11,17 M15,4 L18,6 M15,10 L18,12 M13,18 L26,15 M21,1 L21,26" stroke="#fff" stroke-width="4.2" stroke-opacity="0.7"/>
<path transform="translate(1018.1,884)" d="M1,1 L25,1 L25,26 L1,26 Z M8,4 L9,6 M17,4 L16,6 M6,7 L20,7 M4,10 L22,10 M13,7 L6,15 M13,7 L20,15 M9,14 L17,14 L17,18 L9,18 L9,22 L20,22" stroke="#fff" stroke-width="4.2" stroke-opacity="0.7"/>
<path transform="translate(775.7,884.5)" d="M9,1 L1,12 M15,1 L25,12 M12,12 L4,24 L21,22 M17,17 L23,25" stroke="#a9a9a9" stroke-width="1.9"/>
<path transform="translate(805.8,884.5)" d="M13,0 L3,12 M13,3 L24,12 M8,11 L1,25 M8,16 L12,24 M18,11 L13,25 M18,15 L25,25" stroke="#a9a9a9" stroke-width="1.9"/>
<path transform="translate(836.5,884.5)" d="M5,1 L21,1 L21,9 L5,9 Z M1,13 L25,13 M8,13 L6,18 L21,18 L20,25 L15,25" stroke="#a9a9a9" stroke-width="1.9"/>
<path transform="translate(896.7,884)" d="M13,0 L1,10 M13,0 L25,10 M7,10 L19,10 M4,15 L22,15 M13,10 L13,24 M8,17 L10,21 M18,17 L16,21 M2,24 L24,24" stroke="#a9a9a9" stroke-width="1.9"/>
<path transform="translate(926.5,884)" d="M4,1 L23,1 L23,6 L4,6 M4,1 L4,14 L1,26 M7,10 L22,10 M9,12 L21,12 L21,17 L9,17 Z M15,10 L15,25 M7,26 L7,19 L23,19 L23,26 L21,26" stroke="#a9a9a9" stroke-width="1.9"/>
<path transform="translate(956.7,884)" d="M0,8 L11,8 M6,1 L6,26 M6,9 L1,19 M6,10 L10,15 M12,8 L25,8 M20,1 L20,24 L18,26 M20,9 L12,20" stroke="#a9a9a9" stroke-width="1.9"/>
<path transform="translate(986.8,884)" d="M2,3 L4,7 M10,3 L8,7 M0,10 L12,10 M6,1 L6,26 M6,11 L1,20 M6,11 L11,17 M15,4 L18,6 M15,10 L18,12 M13,18 L26,15 M21,1 L21,26" stroke="#a9a9a9" stroke-width="1.9"/>
<path transform="translate(1018.1,884)" d="M1,1 L25,1 L25,26 L1,26 Z M8,4 L9,6 M17,4 L16,6 M6,7 L20,7 M4,10 L22,10 M13,7 L6,15 M13,7 L20,15 M9,14 L17,14 L17,18 L9,18 L9,22 L20,22" stroke="#a9a9a9" stroke-width="1.9"/>
</g>
</g>
</svg></body></html>
